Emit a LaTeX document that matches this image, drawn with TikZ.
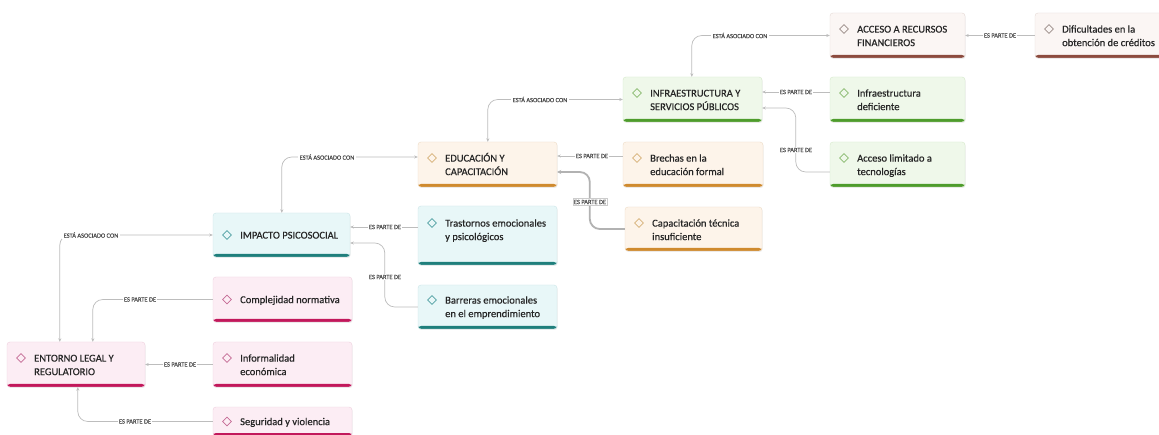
\documentclass[tikz,border=0pt]{standalone}
\usepackage{fontspec}
\setmainfont{Carlito}[FakeBold=0.5]
\newfontfamily\lblfont{Carlito}[FakeBold=0.3]
\usetikzlibrary{shapes.geometric,arrows.meta,shadows,calc}
\definecolor{linegray}{HTML}{BDBDBD}
\definecolor{labelgray}{HTML}{4A4A4A}
\definecolor{txtc}{HTML}{262626}
\definecolor{finfill}{HTML}{FBF6F4}\definecolor{finborder}{HTML}{E6DAD6}\definecolor{finbar}{HTML}{8C4B3E}\definecolor{findia}{HTML}{9A8C88}
\definecolor{inffill}{HTML}{EFF8EA}\definecolor{infborder}{HTML}{D6EACB}\definecolor{infbar}{HTML}{4E9C2C}\definecolor{infdia}{HTML}{86B86C}
\definecolor{edufill}{HTML}{FDF4EA}\definecolor{eduborder}{HTML}{EEDCC6}\definecolor{edubar}{HTML}{CF8A2E}\definecolor{edudia}{HTML}{D6B077}
\definecolor{psifill}{HTML}{E8F7F8}\definecolor{psiborder}{HTML}{CBE6E8}\definecolor{psibar}{HTML}{1F7F7C}\definecolor{psidia}{HTML}{4E9FA1}
\definecolor{legfill}{HTML}{FCEDF4}\definecolor{legborder}{HTML}{EFD0DE}\definecolor{legbar}{HTML}{C2185B}\definecolor{legdia}{HTML}{C46A94}
\tikzset{
  mmbox/.style={draw=#1border, fill=#1fill, rounded corners=3pt, line width=0.4pt, inner sep=0pt,
    drop shadow={opacity=0.14, shadow xshift=0.6pt, shadow yshift=-1pt},
    path picture={\fill[#1bar] ([yshift=3pt]path picture bounding box.south west) rectangle (path picture bounding box.south east);}},
  mmdia/.style={diamond, draw=#1dia, line width=0.8pt, minimum size=9pt, inner sep=0pt},
  txt/.style={inner sep=0pt, text=txtc},
  conn/.style={draw=linegray, line width=0.7pt, rounded corners=10pt},
  part/.style={conn, -{Stealth[length=3.5pt,width=3pt]}},
  assoc/.style={conn, {Stealth[length=3.5pt,width=3pt]}-{Stealth[length=3.5pt,width=3pt]}},
  lbl/.style={fill=white, inner sep=1.2pt, font=\lblfont\fontsize{6.4}{7}\selectfont, text=labelgray},
}
\newcommand\mmnode[8]{%
  \node[mmbox=#2, minimum width={#5-#3}, minimum height={#6-#4}] (#1) at ({(#3+#5)/2},{(#4+#6)/2}) {};
  \node[mmdia=#2] (#1d) at ({#3+14},#7) {};
  \node[txt, anchor=base west] (#1t) at ({#3+27},{#7+3.6}) {\parbox[t]{115pt}{\raggedright\fontsize{10.5}{13.5}\selectfont #8}};
}
\begin{document}
\begin{tikzpicture}[x=1pt,y=-1pt]
\fill[white] (0,0) rectangle (1159,435);
\useasboundingbox (0,0) rectangle (1159,435);
% boxes
\mmnode{fin}{fin}{830}{13}{965}{58}{29}{ACCESO A RECURSOS\\FINANCIEROS}
\mmnode{dif}{fin}{1035}{13}{1175}{58}{29}{Dificultades en la\\obtención de créditos}
\mmnode{inf}{inf}{623}{77}{762}{122}{93}{INFRAESTRUCTURA Y\\SERVICIOS PÚBLICOS}
\mmnode{infd}{inf}{830}{77}{965}{122}{93}{Infraestructura\\deficiente}
\mmnode{acc}{inf}{830}{142}{965}{187}{158}{Acceso limitado a\\tecnologías}
\mmnode{edu}{edu}{418}{142}{557}{187}{158}{EDUCACIÓN Y\\CAPACITACIÓN}
\mmnode{bre}{edu}{623}{142}{763}{187}{158}{Brechas en la\\educación formal}
\mmnode{cap}{edu}{625}{207}{762}{251}{223}{Capacitación técnica\\insuficiente}
\mmnode{imp}{psi}{213}{213}{350}{257}{235}{IMPACTO PSICOSOCIAL}
\mmnode{tra}{psi}{418}{206}{557}{265}{223}{Trastornos emocionales\\y psicológicos}
\mmnode{bar}{psi}{418}{285}{557}{329}{300}{Barreras emocionales\\en el emprendimiento}
\mmnode{com}{leg}{213}{277}{352}{322}{299.5}{Complejidad normativa}
\mmnode{ent}{leg}{7}{342}{145}{387}{358}{ENTORNO LEGAL Y\\REGULATORIO}
\mmnode{inm}{leg}{213}{342}{352}{387}{358}{Informalidad\\económica}
\mmnode{seg}{leg}{213}{407}{352}{436}{421.5}{Seguridad y violencia}
% ES PARTE DE connectors
\draw[part] (dif.west) -- (fin.east);
\draw[part] ([yshift=7.5pt]infd.west) -- ([yshift=7.5pt]inf.east);
\draw[part] ([yshift=-7.5pt]acc.west) -- ++(-34,0) |- ([yshift=-8.5pt]inf.east);
\draw[part] ([yshift=8.5pt]bre.west) -- ([yshift=8.5pt]edu.east);
\draw[part, draw=black!30, line width=1.8pt, -{Stealth[length=4pt,width=4pt]}] (cap.west) -- ++(-35,0) |- ([yshift=-7.5pt]edu.east);
\draw[part] ([yshift=8.5pt]tra.west) -- ([yshift=8pt]imp.east);
\draw[part] (bar.west) -- ++(-33,0) |- ([yshift=-8pt]imp.east);
\draw[part] (com.west) -| ([xshift=86pt]ent.north west);
\draw[part] (inm.west) -- (ent.east);
\draw[part] (seg.west) -| ([xshift=71pt]ent.south west);
% ESTA ASOCIADO CON connectors
\draw[assoc] ([xshift=53pt]ent.north west) |- (imp.west);
\draw[assoc] ([xshift=69pt]imp.north west) |- ([yshift=7.5pt]edu.west);
\draw[assoc] ([xshift=70pt]edu.north west) |- (inf.west);
\draw[assoc] ([xshift=69pt]inf.north west) |- (fin.west);
% labels
\node[lbl] (lA) at (91,235) {ESTÁ ASOCIADO CON};
\node[lbl] (lB) at (327,157) {ESTÁ ASOCIADO CON};
\node[lbl] (lC) at (540,99.5) {ESTÁ ASOCIADO CON};
\node[lbl] (lD) at (740,35.5) {ESTÁ ASOCIADO CON};
\node[lbl] (la) at (1000,35.5) {ES PARTE DE};
\node[lbl] (lb) at (796,92) {ES PARTE DE};
\node[lbl] (lc) at (796,150) {ES PARTE DE};
\node[lbl] (ld) at (592,156) {ES PARTE DE};
\node[lbl, draw=black!20] (le) at (590,202) {ES PARTE DE};
\node[lbl] (lf) at (385,227) {ES PARTE DE};
\node[lbl] (lg) at (385,277) {ES PARTE DE};
\node[lbl] (lh) at (140,299.5) {ES PARTE DE};
\node[lbl] (li) at (180,364.5) {ES PARTE DE};
\node[lbl] (lj) at (135,421.5) {ES PARTE DE};
\end{tikzpicture}
\end{document}
